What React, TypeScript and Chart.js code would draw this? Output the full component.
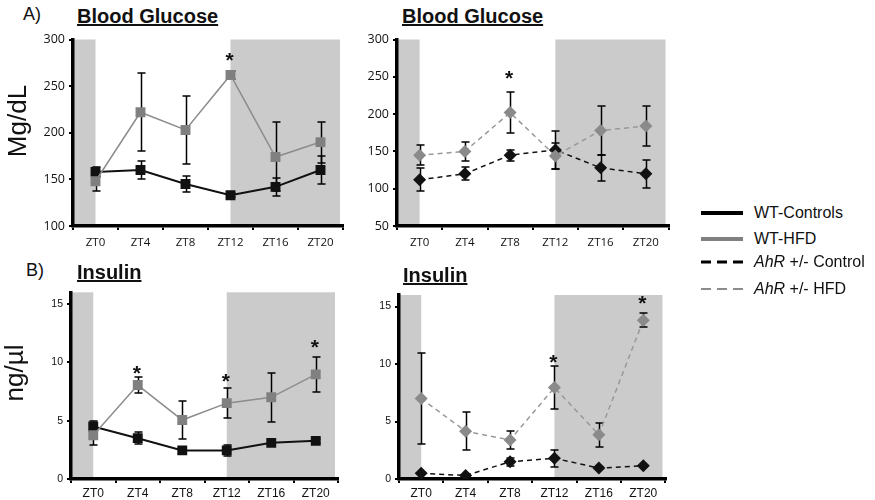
import React, { useEffect, useRef } from 'react';
import { Chart, registerables } from 'chart.js';
Chart.register(...registerables);

// ---------- data ----------
const categories = ['ZT0', 'ZT4', 'ZT8', 'ZT12', 'ZT16', 'ZT20'];

// Blood glucose (mg/dL)
const gluWTCtrl = [158, 160, 145, 133, 142, 160];
const gluWTCtrlErr = [5, 10, 8.5, 2, 9.5, 15];
const gluWTHFD = [148, 222, 203, 262, 174, 190];
const gluWTHFDErr = [10, 42, 36.5, 4, 37, 22];
const gluWTStars = [null, null, null, 282, null, null];

const gluAhrCtrl = [112, 120, 145, 152, 128, 120];
const gluAhrCtrlErr = [15.5, 9, 7.5, 26, 17.5, 19];
const gluAhrHFD = [145, 150, 202, 144, 178, 184];
const gluAhrHFDErr = [13, 13, 27, 17, 33, 27];
const gluAhrStars = [null, null, 253, null, null, null];

// Insulin (ng/µl)
const insWTCtrl = [4.5, 3.5, 2.45, 2.45, 3.1, 3.27];
const insWTCtrlErr = [0.5, 0.5, 0.2, 0.45, 0.2, 0.2];
const insWTHFD = [3.75, 8.05, 5.05, 6.5, 7.0, 8.97];
const insWTHFDErr = [0.85, 0.7, 1.63, 1.28, 2.1, 1.5];
const insWTStars = [null, 9.45, null, 8.7, null, 11.6];

const insAhrCtrl = [0.5, 0.3, 1.5, 1.8, 0.95, 1.15];
const insAhrCtrlErr = [0.1, 0.1, 0.35, 0.75, 0.1, 0.1];
const insAhrHFD = [7.0, 4.15, 3.4, 7.95, 3.85, 13.8];
const insAhrHFDErr = [3.95, 1.65, 0.8, 1.9, 1.05, 0.6];
const insAhrStars = [null, null, null, 10.5, null, 15.6];

const gluTicksWT = { min: 100, max: 300, step: 50 };
const gluTicksAhr = { min: 50, max: 300, step: 50 };
const insTicks = { min: 0, max: 16, step: 5 };

// ---------- styles ----------
const SHADE = 'rgb(203,203,203)';
const BLACK = '#111111';
const GRAY_MARK = '#808080';
const GRAY_LINE = '#8c8c8c';

type Series = {
  label: string;
  values: number[];
  err: number[];
  color: string;
  line: string;
  marker: string;
  radius: number;
  dash: number[];
  width: number;
};

type Spec = {
  left: number; top: number; w: number; h: number;
  yW: number; xH: number; padTop: number; padRight: number;
  y: { min: number; max: number; step: number };
  series: Series[];
  stars: (number | null)[];
  yFont: any; xFont: any; xPad: number;
};

const wtSeries = (c: number[], ce: number[], f: number[], fe: number[]): Series[] => [
  { label: 'WT-HFD', values: f, err: fe, color: GRAY_MARK, line: GRAY_LINE, marker: 'rect', radius: 7, dash: [], width: 1.5 },
  { label: 'WT-Controls', values: c, err: ce, color: BLACK, line: BLACK, marker: 'rect', radius: 7, dash: [], width: 2 },
];
const ahrSeries = (c: number[], ce: number[], f: number[], fe: number[]): Series[] => [
  { label: 'AhR +/- HFD', values: f, err: fe, color: '#8a8a8a', line: '#999999', marker: 'rectRot', radius: 6.5, dash: [5, 4], width: 1.5 },
  { label: 'AhR +/- Control', values: c, err: ce, color: BLACK, line: BLACK, marker: 'rectRot', radius: 6.5, dash: [5, 4], width: 1.5 },
];

const fontA = { family: '"Open Sans", "Liberation Sans", sans-serif', size: 12.5 };
const fontAx = { family: '"Open Sans", "Liberation Sans", sans-serif', size: 11.5 };
const fontB = { family: '"Liberation Sans", Arial, sans-serif', size: 10.5 };
const fontBx = { family: '"Liberation Sans", Arial, sans-serif', size: 12 };

const specs: Spec[] = [
  { left: 25, top: 28, w: 325, h: 227, yW: 48, xH: 29, padTop: 9, padRight: 4, y: gluTicksWT,
    series: wtSeries(gluWTCtrl, gluWTCtrlErr, gluWTHFD, gluWTHFDErr), stars: gluWTStars, yFont: fontA, xFont: fontAx, xPad: 6 },
  { left: 352, top: 28, w: 323, h: 227, yW: 45, xH: 29, padTop: 9, padRight: 4, y: gluTicksAhr,
    series: ahrSeries(gluAhrCtrl, gluAhrCtrlErr, gluAhrHFD, gluAhrHFDErr), stars: gluAhrStars, yFont: fontA, xFont: fontAx, xPad: 6 },
  { left: 25, top: 282, w: 320, h: 218, yW: 46, xH: 21, padTop: 9, padRight: 4, y: insTicks,
    series: wtSeries(insWTCtrl, insWTCtrlErr, insWTHFD, insWTHFDErr), stars: insWTStars, yFont: fontB, xFont: fontBx, xPad: 3 },
  { left: 352, top: 282, w: 320, h: 218, yW: 47, xH: 21, padTop: 13, padRight: 4, y: insTicks,
    series: ahrSeries(insAhrCtrl, insAhrCtrlErr, insAhrHFD, insAhrHFDErr), stars: insAhrStars, yFont: fontB, xFont: fontBx, xPad: 3 },
];

function makeConfig(spec: Spec): any {
  const shade = {
    id: 'shade',
    beforeDraw(chart: any) {
      const { ctx, chartArea: a, scales } = chart;
      const x = scales.x;
      ctx.save();
      ctx.fillStyle = SHADE;
      const x0 = x.getPixelForValue(0);
      const x3 = x.getPixelForValue(3);
      ctx.fillRect(a.left, a.top, x0 - a.left, a.bottom - a.top);
      ctx.fillRect(x3, a.top, a.right - x3 - 3, a.bottom - a.top);
      ctx.restore();
    },
    beforeDatasetsDraw(chart: any) {
      const { ctx, scales } = chart;
      const y = scales.y;
      ctx.save();
      ctx.strokeStyle = '#000';
      ctx.lineWidth = 1.5;
      spec.series.forEach((s, i) => {
        const meta = chart.getDatasetMeta(i);
        meta.data.forEach((pt: any, j: number) => {
          const v = s.values[j];
          const e = s.err[j];
          const yt = Math.round(y.getPixelForValue(v + e));
          const yb = Math.round(y.getPixelForValue(v - e));
          const px = Math.round(pt.x) + 0.5;
          ctx.beginPath();
          ctx.moveTo(px, yt);
          ctx.lineTo(px, yb);
          ctx.moveTo(px - 4, yt);
          ctx.lineTo(px + 4, yt);
          ctx.moveTo(px - 4, yb);
          ctx.lineTo(px + 4, yb);
          ctx.stroke();
        });
      });
      ctx.restore();
    },
    afterDatasetsDraw(chart: any) {
      const { ctx, scales } = chart;
      ctx.save();
      ctx.fillStyle = '#111';
      ctx.font = 'bold 21px "Liberation Sans", Arial, sans-serif';
      ctx.textAlign = 'center';
      ctx.textBaseline = 'middle';
      spec.stars.forEach((v, j) => {
        if (v == null) return;
        ctx.fillText('*', scales.x.getPixelForValue(j) - 1, scales.y.getPixelForValue(v) + 5);
      });
      ctx.restore();
    },
  };

  return {
    type: 'line',
    data: {
      labels: categories,
      datasets: spec.series.map((s) => ({
        label: s.label,
        data: s.values,
        borderColor: s.line,
        backgroundColor: s.color,
        pointBackgroundColor: s.color,
        pointBorderColor: s.color,
        pointBorderWidth: 0,
        pointStyle: s.marker,
        pointRadius: s.radius,
        borderWidth: s.width,
        borderDash: s.dash,
        tension: 0,
        fill: false,
      })),
    },
    options: {
      responsive: false,
      animation: false,
      devicePixelRatio: 1,
      layout: { padding: { top: spec.padTop, right: spec.padRight, left: 0, bottom: 0 } },
      plugins: { legend: { display: false }, tooltip: { enabled: false }, title: { display: false } },
      scales: {
        x: {
          type: 'category',
          offset: true,
          grid: { offset: true, drawOnChartArea: false, drawTicks: true, tickLength: 4, color: '#000', lineWidth: 2 },
          border: { color: '#000', width: 3.5 },
          ticks: { color: '#111', font: spec.xFont, padding: spec.xPad, maxRotation: 0, autoSkip: false },
          afterFit: (s: any) => { s.height = spec.xH; },
        },
        y: {
          min: spec.y.min,
          max: spec.y.max,
          grid: { drawOnChartArea: false, drawTicks: true, tickLength: 4, color: '#000', lineWidth: 2 },
          border: { color: '#000', width: 3.5 },
          ticks: { stepSize: spec.y.step, includeBounds: false, color: '#111', font: spec.yFont, padding: 4 },
          afterFit: (s: any) => { s.width = spec.yW; },
        },
      },
    },
    plugins: [shade],
  };
}

function Panel({ spec }: { spec: Spec }) {
  const ref = useRef<HTMLCanvasElement>(null);
  useEffect(() => {
    const chart = new Chart(ref.current as HTMLCanvasElement, makeConfig(spec));
    return () => chart.destroy();
  }, []);
  return (
    <canvas
      ref={ref}
      width={spec.w}
      height={spec.h}
      style={{ position: 'absolute', left: spec.left, top: spec.top, width: spec.w, height: spec.h }}
    />
  );
}

const sans = '"Liberation Sans", Arial, sans-serif';

const Text = ({ x, y, size, bold, underline, italic, children }: any) => (
  <div
    style={{
      position: 'absolute', left: x, top: y, fontFamily: sans, fontSize: size, lineHeight: `${size}px`,
      fontWeight: bold ? 700 : 400, textDecoration: underline ? 'underline' : 'none',
      fontStyle: italic ? 'italic' : 'normal', whiteSpace: 'nowrap', color: '#111',
    }}
  >
    {children}
  </div>
);

const VText = ({ cx, cy, size, children }: any) => (
  <div
    style={{
      position: 'absolute', left: cx, top: cy, fontFamily: sans, fontSize: size, lineHeight: `${size}px`,
      transform: 'translate(-50%, -50%) rotate(-90deg)', whiteSpace: 'nowrap', color: '#111',
    }}
  >
    {children}
  </div>
);

const LegendLine = ({ y, color, dashed, thick }: any) => (
  <svg style={{ position: 'absolute', left: 700, top: y - 4, width: 45, height: 8 }}>
    <line x1={1} y1={4} x2={43} y2={4} stroke={color} strokeWidth={thick} strokeDasharray={dashed ? '10 6' : undefined} />
  </svg>
);

export default function App() {
  return (
    <div style={{ position: 'fixed', left: 0, top: 0, width: 875, height: 500, background: '#fff', overflow: 'hidden' }}>
      {specs.map((s, i) => <Panel key={i} spec={s} />)}
      <Text x={23} y={5} size={18}>A)</Text>
      <Text x={77} y={6} size={20} bold underline>Blood Glucose</Text>
      <Text x={402} y={6} size={20} bold underline>Blood Glucose</Text>
      <Text x={26} y={261} size={18}>B)</Text>
      <Text x={77} y={262} size={20} bold underline>Insulin</Text>
      <Text x={403} y={265} size={20} bold underline>Insulin</Text>
      <VText cx={17} cy={121} size={26}>Mg/dL</VText>
      <VText cx={14} cy={373} size={26}>ng/µl</VText>

      <LegendLine y={213} color="#000" thick={4} />
      <Text x={754} y={205} size={16}>WT-Controls</Text>
      <LegendLine y={239} color="#808080" thick={4} />
      <Text x={754} y={231} size={16}>WT-HFD</Text>
      <LegendLine y={262} color="#000" thick={3} dashed />
      <Text x={754} y={254} size={16}><i>AhR</i> +/- Control</Text>
      <LegendLine y={289} color="#8c8c8c" thick={2} dashed />
      <Text x={754} y={281} size={16}><i>AhR</i> +/- HFD</Text>
    </div>
  );
}
